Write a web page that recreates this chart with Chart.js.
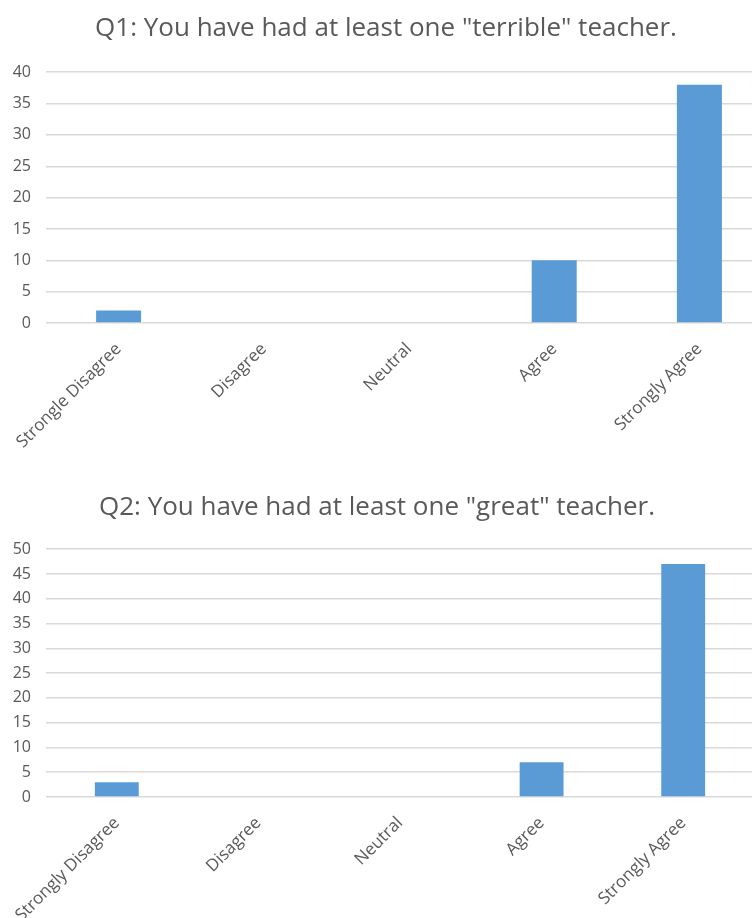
<!DOCTYPE html>
<html>
<head>
<meta charset="utf-8">
<script src="https://cdn.jsdelivr.net/npm/chart.js@4"></script>
<style>
  html, body { margin: 0; padding: 0; background: #fff; }
  body { width: 752px; height: 918px; overflow: hidden; position: relative; }
  .box { position: absolute; left: 0; }
</style>
</head>
<body>
<div class="box" id="box1" style="top:0;width:772px;height:460px;"><canvas id="c1"></canvas></div>
<div class="box" id="box2" style="top:462px;width:754px;height:456px;"><canvas id="c2"></canvas></div>
<script>
// Two survey bar charts, Excel-style
const q1Title = 'Q1: You have had at least one "terrible" teacher.';
const q1Labels = ['Strongle Disagree', 'Disagree', 'Neutral', 'Agree', 'Strongly Agree'];
const q1Values = [2, 0, 0, 10, 38];
const q1Max = 40;

const q2Title = 'Q2: You have had at least one "great" teacher.';
const q2Labels = ['Strongly Disagree', 'Disagree', 'Neutral', 'Agree', 'Strongly Agree'];
const q2Values = [3, 0, 0, 7, 47];
const q2Max = 50;

const TEXT = '#595959';
const GRID = '#d9d9d9';
const BAR = '#5b9bd5';
const FONT = "'Open Sans', sans-serif";

function makeChart(canvasId, title, labels, values, yMax, titleTop, titleBottom, xHeight) {
    return new Chart(document.getElementById(canvasId), {
        type: 'bar',
        data: {
            labels: labels,
            datasets: [{ data: values, backgroundColor: BAR, categoryPercentage: 1, barPercentage: 0.31 }]
        },
        options: {
            responsive: true, maintainAspectRatio: false, animation: false,
            layout: { padding: 0 },
            plugins: {
                legend: { display: false },
                tooltip: { enabled: false },
                title: {
                    display: true, text: title, color: TEXT,
                    font: { family: FONT, size: 26, weight: 'normal' },
                    padding: { top: titleTop, bottom: titleBottom }
                }
            },
            scales: {
                x: {
                    grid: { display: false },
                    border: { display: false },
                    ticks: { color: TEXT, font: { family: FONT, size: 17 }, maxRotation: 45, minRotation: 45, padding: 8 },
                    afterFit: s => { s.height = xHeight; }
                },
                y: {
                    min: 0, max: yMax,
                    grid: { color: GRID, lineWidth: 1.5, drawTicks: false },
                    border: { display: false },
                    ticks: { stepSize: 5, color: TEXT, font: { family: FONT, size: 16 }, padding: 15 },
                    afterFit: s => { s.width = 46; }
                }
            }
        }
    });
}

makeChart('c1', q1Title, q1Labels, q1Values, q1Max, 13, 28, 137);
makeChart('c2', q2Title, q2Labels, q2Values, q2Max, 30, 26, 121);
</script>
</body>
</html>
